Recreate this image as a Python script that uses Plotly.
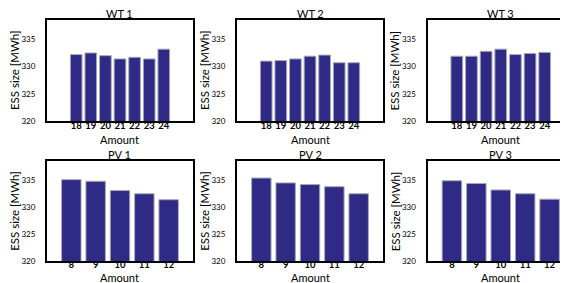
import plotly.graph_objects as go

# ---- data ----
wt_amount = [18, 19, 20, 21, 22, 23, 24]
pv_amount = [8, 9, 10, 11, 12]
wt1 = [332.2, 332.5, 332.0, 331.4, 331.7, 331.4, 333.2]
wt2 = [331.0, 331.1, 331.4, 331.9, 332.1, 330.7, 330.7]
wt3 = [331.9, 331.9, 332.8, 333.2, 332.2, 332.4, 332.6]
pv1 = [335.1, 334.8, 333.1, 332.5, 331.4]
pv2 = [335.4, 334.5, 334.2, 333.8, 332.5]
pv3 = [334.9, 334.4, 333.2, 332.5, 331.5]
titles = ["WT 1", "WT 2", "WT 3", "PV 1", "PV 2", "PV 3"]
y_ticks = [320, 325, 330, 335]
x_title = "Amount"
y_title = "ESS size [MWh]"

panels = [
    (wt_amount, wt1), (wt_amount, wt2), (wt_amount, wt3),
    (pv_amount, pv1), (pv_amount, pv2), (pv_amount, pv3),
]

W, H = 568, 283
col_px = [(39, 185), (229, 375), (419.5, 566)]
row_px = [(12.5, 115), (156, 258)]
title_px = [5.5, 149.5]
xlab_bottom_px = [142, 282]
tick_standoff = [-5, -7]

FONT = "Lato"
BAR = "#2f2a85"

fig = go.Figure()
layout = dict(
    width=W, height=H, margin=dict(l=0, r=0, t=0, b=0),
    paper_bgcolor="white", plot_bgcolor="white", showlegend=False,
    font=dict(family=FONT, color="black"),
)
annotations = []

for i, (xs, ys) in enumerate(panels):
    r, c = divmod(i, 3)
    n = "" if i == 0 else str(i + 1)
    fig.add_trace(go.Bar(
        x=xs, y=ys, xaxis="x" + n, yaxis="y" + n, width=0.8,
        marker=dict(color=BAR, line=dict(color="#a8a8b4", width=1)),
    ))
    x0, x1 = col_px[c]
    y0, y1 = row_px[r]
    xd = [x0 / W, x1 / W]
    yd = [1 - y1 / H, 1 - y0 / H]
    xr = [16, 26] if r == 0 else [7, 13]
    layout["xaxis" + n] = dict(
        domain=xd, anchor="y" + n, range=xr, tickmode="array", tickvals=xs,
        showgrid=False, zeroline=False, showline=True, mirror=True,
        linecolor="black", linewidth=2, ticks="",
        ticklabelstandoff=tick_standoff[r],
        tickfont=dict(family=FONT, size=9.5, weight="bold", color="black"),
    )
    layout["yaxis" + n] = dict(
        domain=yd, anchor="x" + n, range=[320, 338.5], tickmode="array",
        tickvals=y_ticks, showgrid=False, zeroline=False, showline=True,
        mirror=True, linecolor="black", linewidth=2, ticks="",
        ticklabelstandoff=8,
        tickfont=dict(family=FONT, size=8, color="black"),
    )
    xc = (x0 + x1) / 2 / W
    annotations.append(dict(
        text=titles[i], x=xc, y=1 - title_px[r] / H, xref="paper", yref="paper",
        showarrow=False, font=dict(family=FONT, size=11, color="black"),
        xanchor="center", yanchor="middle",
    ))
    annotations.append(dict(
        text=x_title, x=xc, y=1 - xlab_bottom_px[r] / H, xref="paper",
        yref="paper", showarrow=False, borderpad=0,
        font=dict(family=FONT, size=11, color="black"),
        xanchor="center", yanchor="bottom",
    ))
    annotations.append(dict(
        text=y_title, x=(x0 - 32.5) / W, y=1 - (y0 + y1) / 2 / H, xref="paper",
        yref="paper", showarrow=False, textangle=-90,
        font=dict(family=FONT, size=11.5, color="black"),
        xanchor="center", yanchor="middle",
    ))

layout["annotations"] = annotations
fig.update_layout(**layout)
fig.write_html("out.html")
